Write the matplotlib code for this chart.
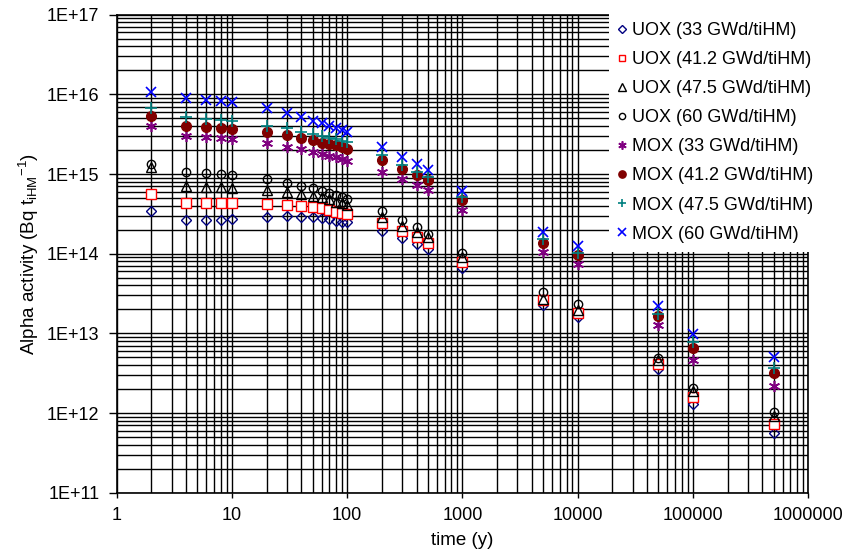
import numpy as np
import matplotlib
matplotlib.use("Agg")
import matplotlib.pyplot as plt
from matplotlib.ticker import LogLocator, NullFormatter

plt.rcParams['font.family'] = ['Liberation Sans', 'DejaVu Sans']
plt.rcParams['mathtext.default'] = 'regular'

# time (y)
t = [2, 4, 6, 8, 10, 20, 30, 40, 50, 60, 70, 80, 90, 100,
     200, 300, 400, 500, 1000, 5000, 10000, 50000, 100000, 500000]

# alpha activity (Bq/tiHM)
uox33 = [3.4e14, 2.64e14, 2.66e14, 2.66e14, 2.74e14, 2.9e14, 2.94e14, 2.9e14, 2.85e14, 2.8e14,
         2.7e14, 2.59e14, 2.51e14, 2.47e14, 1.92e14, 1.58e14, 1.33e14, 1.16e14, 6.7e13,
         2.25e13, 1.6e13, 3.6e12, 1.31e12, 5.7e11]
uox41 = [5.6e14, 4.3e14, 4.3e14, 4.3e14, 4.3e14, 4.2e14, 4.07e14, 3.95e14, 3.85e14, 3.7e14,
         3.5e14, 3.36e14, 3.26e14, 3.17e14, 2.4e14, 1.92e14, 1.6e14, 1.38e14, 7.9e13,
         2.6e13, 1.82e13, 4.07e12, 1.58e12, 7.3e11]
uox47 = [1.24e15, 7.1e14, 6.9e14, 6.8e14, 6.7e14, 6.3e14, 5.9e14, 5.6e14, 5.3e14, 5.1e14,
         4.8e14, 4.5e14, 4.36e14, 4.1e14, 2.9e14, 2.26e14, 1.85e14, 1.6e14, 9.1e13,
         2.73e13, 1.95e13, 4.57e12, 1.88e12, 9.3e11]
uox60 = [1.34e15, 1.07e15, 1.04e15, 1.0e15, 9.8e14, 8.65e14, 7.8e14, 7.1e14, 6.6e14, 6.2e14,
         5.7e14, 5.4e14, 5.2e14, 4.8e14, 3.4e14, 2.64e14, 2.17e14, 1.79e14, 1.02e14,
         3.3e13, 2.32e13, 4.95e12, 2.07e12, 1.02e12]
mox33 = [4.05e15, 3.0e15, 2.9e15, 2.8e15, 2.75e15, 2.48e15, 2.2e15, 2.04e15, 1.91e15, 1.79e15,
         1.70e15, 1.62e15, 1.56e15, 1.47e15, 1.07e15, 8.65e14, 7.2e14, 6.3e14, 3.5e14,
         1.05e14, 7.4e13, 1.26e13, 4.7e12, 2.17e12]
mox41 = [5.3e15, 4.05e15, 3.87e15, 3.8e15, 3.7e15, 3.37e15, 3.06e15, 2.84e15, 2.65e15, 2.48e15,
         2.38e15, 2.3e15, 2.17e15, 2.04e15, 1.5e15, 1.16e15, 9.7e14, 8.4e14, 4.7e14,
         1.38e14, 9.6e13, 1.64e13, 6.6e12, 3.17e12]
mox47 = [6.7e15, 5.2e15, 4.9e15, 4.8e15, 4.65e15, 4.05e15, 3.75e15, 3.4e15, 3.15e15, 3.0e15,
         2.87e15, 2.73e15, 2.62e15, 2.5e15, 1.73e15, 1.3e15, 1.07e15, 9.25e14, 5.1e14,
         1.51e14, 1.02e14, 1.73e13, 7.8e12, 3.7e12]
mox60 = [1.08e16, 8.96e15, 8.5e15, 8.2e15, 8.0e15, 6.7e15, 5.9e15, 5.16e15, 4.65e15, 4.35e15,
         4.0e15, 3.75e15, 3.57e15, 3.34e15, 2.17e15, 1.65e15, 1.32e15, 1.12e15, 6.1e14,
         1.85e14, 1.25e14, 2.2e13, 9.9e12, 5.0e12]

xticks = [1, 10, 100, 1000, 10000, 100000, 1000000]
xticklabels = ['1', '10', '100', '1000', '10000', '100000', '1000000']
yticks = [1e11, 1e12, 1e13, 1e14, 1e15, 1e16, 1e17]
yticklabels = ['1E+11', '1E+12', '1E+13', '1E+14', '1E+15', '1E+16', '1E+17']

fig = plt.figure(figsize=(8.48, 5.53), dpi=100)
ax = fig.add_axes([0.1376, 0.109, 0.8156, 0.8644])

ax.set_xscale('log')
ax.set_yscale('log')

ax.grid(True, which='both', color='black', linewidth=1.0, zorder=0)
ax.set_axisbelow(True)

ms = 6
ax.plot(t, uox33, ls='none', marker='D', ms=ms - 1, mfc='none', mec='#000080', mew=1.0, label='UOX (33 GWd/tiHM)')
ax.plot(t, uox41, ls='none', marker='s', ms=ms + 0.5, mfc='white', mec='red', mew=1.0, label='UOX (41.2 GWd/tiHM)')
ax.plot(t, uox47, ls='none', marker='^', ms=ms + 1, mfc='none', mec='black', mew=1.0, label='UOX (47.5 GWd/tiHM)')
ax.plot(t, uox60, ls='none', marker='o', ms=ms, mfc='none', mec='black', mew=1.0, label='UOX (60 GWd/tiHM)')
ax.plot(t, mox33, ls='none', marker=(6, 2, 0), ms=ms + 2, mec='#800080', mew=1.2, label='MOX (33 GWd/tiHM)')
ax.plot(t, mox41, ls='none', marker='o', ms=ms + 1, mfc='#800000', mec='#800000', label='MOX (41.2 GWd/tiHM)')
ax.plot(t, mox47, ls='none', marker='+', ms=ms + 2, mec='#008080', mew=1.2, label='MOX (47.5 GWd/tiHM)')
ax.plot(t, mox60, ls='none', marker='x', ms=ms + 1, mec='blue', mew=1.2, label='MOX (60 GWd/tiHM)')

ax.set_xticks(xticks)
ax.set_xticklabels(xticklabels)
ax.set_yticks(yticks)
ax.set_yticklabels(yticklabels)
ax.xaxis.set_minor_locator(LogLocator(base=10, subs=np.arange(2, 10), numticks=20))
ax.yaxis.set_minor_locator(LogLocator(base=10, subs=np.arange(2, 10), numticks=20))
ax.xaxis.set_minor_formatter(NullFormatter())
ax.yaxis.set_minor_formatter(NullFormatter())
ax.set_xlim(1, 1e6)
ax.set_ylim(1e11, 1e17)

ax.tick_params(which='major', direction='out', width=1.0, labelsize=13, colors='black')
ax.tick_params(axis='y', which='major', length=6, pad=6.5)
ax.tick_params(axis='x', which='major', length=3.5, pad=6.5)
ax.tick_params(which='minor', length=0)
for s in ax.spines.values():
    s.set_linewidth(1.2)
    s.set_color('black')

ax.set_xlabel('time (y)', fontsize=13.5, labelpad=6)
ax.set_ylabel('Alpha activity (Bq t$_{iHM}$$^{-1}$)', fontsize=13.5, labelpad=4)

leg = ax.legend(loc='upper left', bbox_to_anchor=(0.707, 0.993), bbox_transform=fig.transFigure,
                fontsize=13, frameon=True, framealpha=1.0, edgecolor='white', fancybox=False,
                handlelength=0.5, handletextpad=0.3, labelspacing=0.67, borderpad=0.5,
                markerscale=0.75)
leg.get_frame().set_linewidth(0)
leg.set_zorder(10)

fig.savefig('out.png', dpi=100)
